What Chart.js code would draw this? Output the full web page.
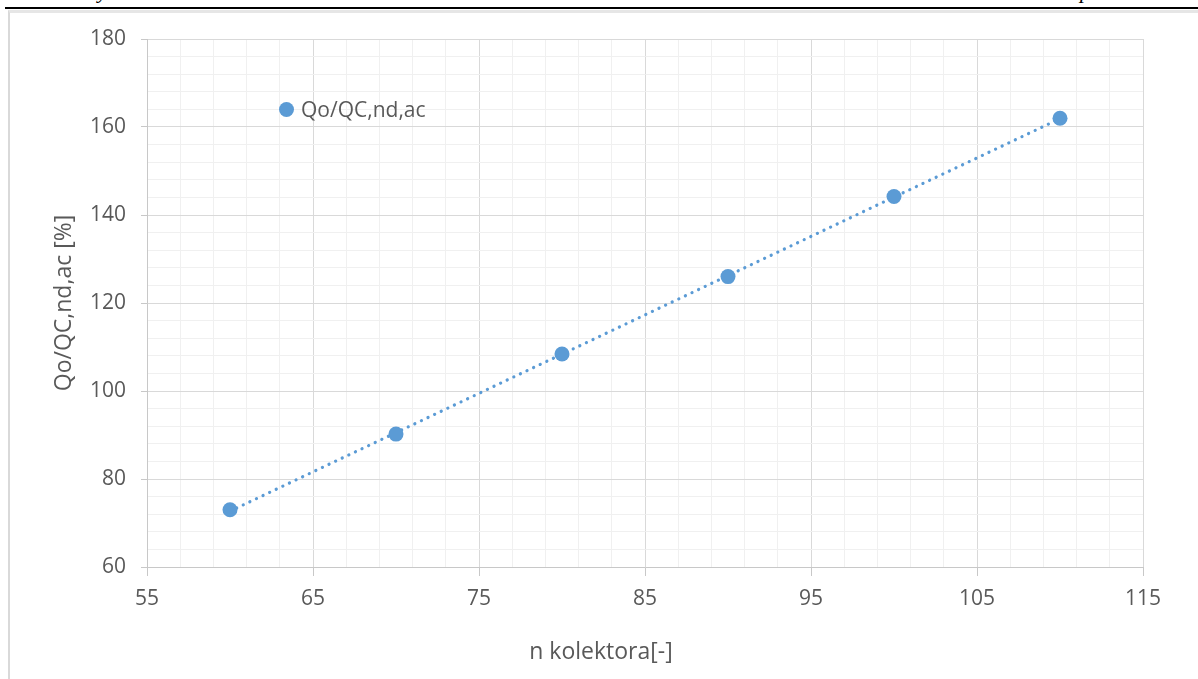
<!DOCTYPE html>
<html>
<head>
<meta charset="utf-8">
<script src="https://cdn.jsdelivr.net/npm/chart.js@4"></script>
<style>
  html, body { margin: 0; padding: 0; background: #fff; }
  body { width: 1198px; height: 679px; position: relative; overflow: hidden; font-family: "Open Sans", sans-serif; }
  #topline { position: absolute; left: 5px; top: 7px; width: 1193px; height: 2px; background: #000; }
  #frame { position: absolute; left: 8px; top: 10px; width: 1200px; height: 700px; border-left: 2px solid #d9d9d9; border-top: 3px solid #e6e6e6; }
  .cut { position: absolute; top: -22px; font-family: "Liberation Serif", serif; font-style: italic; font-size: 22px; color: #000; }
  #wrap { position: absolute; left: 0; top: 0; width: 1198px; height: 679px; }
  #xtitle { position: absolute; top: 634px; left: 451px; width: 300px; text-align: center; font-size: 23px; line-height: 32px; color: #595959; }
  #legend { position: absolute; left: 279px; top: 94px; font-size: 21px; line-height: 30px; color: #595959; white-space: nowrap; }
  #legend span.dot { display: inline-block; width: 15px; height: 15px; border-radius: 50%; background: #5b9bd5; vertical-align: middle; margin-right: 7px; position: relative; top: -2px; }
</style>
</head>
<body>
<div id="topline"></div>
<div id="frame"></div>
<div class="cut" style="left:98px">y</div>
<div class="cut" style="left:1080px">p</div>
<div id="wrap"><canvas id="chart"></canvas></div>
<div id="xtitle">n kolektora[-]</div>
<div id="legend"><span class="dot"></span>Qo/QC,nd,ac</div>
<script>
// measured values
var nKolektora = [60, 70, 80, 90, 100, 110];
var qoRatio = [73, 90.2, 108.4, 126, 144.2, 162];

// linear trendline (dotted), end points
var trendX = [60, 110];
var trendY = [72.7, 161.9];

// axis ranges
var xMin = 55, xMax = 115, xMinor = 2;
var yMin = 60, yMax = 180, yMinor = 4;
var xTickLabels = [55, 65, 75, 85, 95, 105, 115];
var yTickLabels = [60, 80, 100, 120, 140, 160, 180];

function makeTicks(min, max, step) {
    var t = [];
    for (var v = min; v <= max + 1e-9; v += step) t.push({ value: v });
    return t;
}
function isMajor(v, labels) {
    return labels.indexOf(v) !== -1;
}

var fontTicks = { family: '"Open Sans", sans-serif', size: 21 };
var fontTitle = { family: '"Open Sans", sans-serif', size: 23 };
var textColor = '#595959';

var ctx = document.getElementById('chart').getContext('2d');
var chart = new Chart(ctx, {
    type: 'scatter',
    data: {
        datasets: [{
            label: 'Qo/QC,nd,ac',
            data: nKolektora.map(function (x, i) { return { x: x, y: qoRatio[i] }; }),
            backgroundColor: '#5b9bd5',
            borderWidth: 0,
            pointRadius: 7.5,
            pointHoverRadius: 7.5,
            showLine: false
        }, {
            label: 'trend',
            data: trendX.map(function (x, i) { return { x: x, y: trendY[i] }; }),
            borderColor: '#5b9bd5',
            borderWidth: 3.2,
            borderDash: [0.1, 7.2],
            borderCapStyle: 'round',
            pointRadius: 0,
            showLine: true,
            fill: false
        }]
    },
    options: {
        responsive: true,
        maintainAspectRatio: false,
        animation: false,
        layout: { padding: { left: 45, top: 39, right: 55, bottom: 0 } },
        plugins: {
            legend: { display: false },
            tooltip: { enabled: false }
        },
        scales: {
            x: {
                type: 'linear',
                min: xMin,
                max: xMax,
                afterBuildTicks: function (s) { s.ticks = makeTicks(xMin, xMax, xMinor); },
                afterFit: function (s) { s.height = 112; },
                ticks: {
                    autoSkip: false,
                    maxRotation: 0,
                    padding: 10,
                    color: textColor,
                    font: fontTicks,
                    callback: function (v) { return isMajor(v, xTickLabels) ? String(v) : ''; }
                },
                grid: {
                    color: function (c) { return isMajor(c.tick.value, xTickLabels) ? '#d9d9d9' : '#f0f0f0'; },
                    tickColor: function (c) { return isMajor(c.tick.value, xTickLabels) ? '#c8c8c8' : 'rgba(0,0,0,0)'; },
                    tickLength: 9,
                    lineWidth: 1
                },
                border: { color: '#c8c8c8', width: 1 }
            },
            y: {
                type: 'linear',
                min: yMin,
                max: yMax,
                afterBuildTicks: function (s) { s.ticks = makeTicks(yMin, yMax, yMinor); },
                afterFit: function (s) { s.width = 102; },
                ticks: {
                    autoSkip: false,
                    padding: 15,
                    color: textColor,
                    font: fontTicks,
                    callback: function (v) { return isMajor(v, yTickLabels) ? String(v) : ''; }
                },
                grid: {
                    color: function (c) { return isMajor(c.tick.value, yTickLabels) ? '#d9d9d9' : '#f0f0f0'; },
                    tickColor: function (c) { return isMajor(c.tick.value, yTickLabels) ? '#c8c8c8' : 'rgba(0,0,0,0)'; },
                    tickLength: 6,
                    lineWidth: 1
                },
                border: { color: '#c8c8c8', width: 1 },
                title: {
                    display: true,
                    text: 'Qo/QC,nd,ac [%]',
                    color: textColor,
                    font: fontTitle,
                    padding: { top: 6, bottom: 0 }
                }
            }
        }
    }
});
</script>
</body>
</html>
